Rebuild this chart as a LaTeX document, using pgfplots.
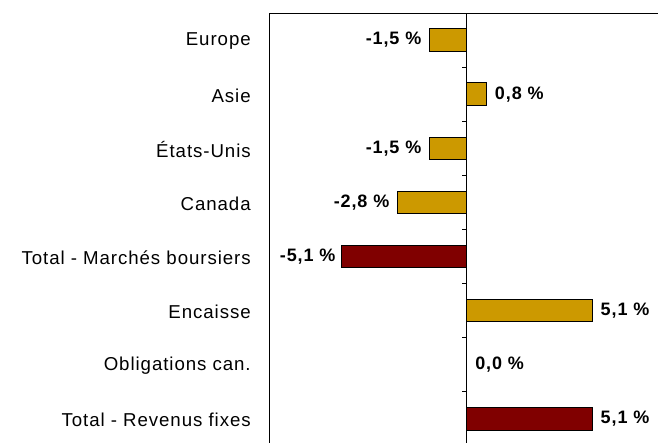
\documentclass[border=0pt]{standalone}
\usepackage{pgfplots}
\pgfplotsset{compat=1.18}
\usepackage{fontspec}
\setmainfont{Liberation Sans}[LetterSpace=5]
\definecolor{gold}{RGB}{204,153,0}
\definecolor{dred}{RGB}{128,0,0}
\begin{document}
\begin{tikzpicture}
\begin{axis}[
  at={(202.5pt,-9.75pt)}, anchor=north west,
  scale only axis, width=295.2pt, height=324.75pt,
  xmin=-8, xmax=8, ymin=0.5, ymax=8.5, y dir=reverse,
  xtick=\empty,
  ytick={1,2,3,4,5,6,7,8},
  yticklabels={Europe, Asie, États-Unis, Canada, Total - Marchés boursiers, Encaisse, Obligations can., Total - Revenus fixes},
  ytick style={draw=none},
  yticklabel style={font=\fontsize{14}{16}\selectfont, inner xsep=0pt, yshift=-1pt},
  yticklabel shift=10pt,
  axis line style={line width=0.75pt},
  xbar, bar width=0.415,
  point meta=explicit symbolic,
  nodes near coords,
  clip=false,
]
% gold, negative
\addplot[bar shift=0pt, fill=gold, draw=black, line width=0.75pt,
  every node near coord/.style={anchor=east, font=\bfseries\fontsize{13.5}{15}\selectfont, inner xsep=6pt, inner ysep=0pt, text=black}] coordinates {
  (-1.5,1) [-1,5 \%]
  (-1.5,3) [-1,5 \%]
  (-2.8,4) [-2,8 \%]
};
% gold, positive
\addplot[bar shift=0pt, fill=gold, draw=black, line width=0.75pt,
  every node near coord/.style={anchor=west, font=\bfseries\fontsize{13.5}{15}\selectfont, inner xsep=6pt, inner ysep=0pt, text=black}] coordinates {
  (0.8,2) [0,8 \%]
  (5.1,6) [5,1 \%]
  (0,7) [0,0 \%]
};
% red, negative
\addplot[bar shift=0pt, fill=dred, draw=black, line width=0.75pt,
  every node near coord/.style={anchor=east, font=\bfseries\fontsize{13.5}{15}\selectfont, inner xsep=4pt, inner ysep=0pt, text=black}] coordinates {
  (-5.1,5) [-5,1 \%]
};
% red, positive
\addplot[bar shift=0pt, fill=dred, draw=black, line width=0.75pt,
  every node near coord/.style={anchor=west, font=\bfseries\fontsize{13.5}{15}\selectfont, inner xsep=6pt, inner ysep=0pt, text=black}] coordinates {
  (5.1,8) [5,1 \%]
};
\draw[line width=0.75pt] (axis cs:0,0.5) -- (axis cs:0,8.5);
\pgfplotsinvokeforeach{1.5,2.5,3.5,4.5,5.5,6.5,7.5}{\draw[line width=0.75pt] (axis cs:0,#1) -- ++(-3.75pt,0pt);}
\end{axis}
\pgfresetboundingbox
\path[use as bounding box] (0,0) rectangle (493.5pt,-332.25pt);
\end{tikzpicture}
\end{document}
